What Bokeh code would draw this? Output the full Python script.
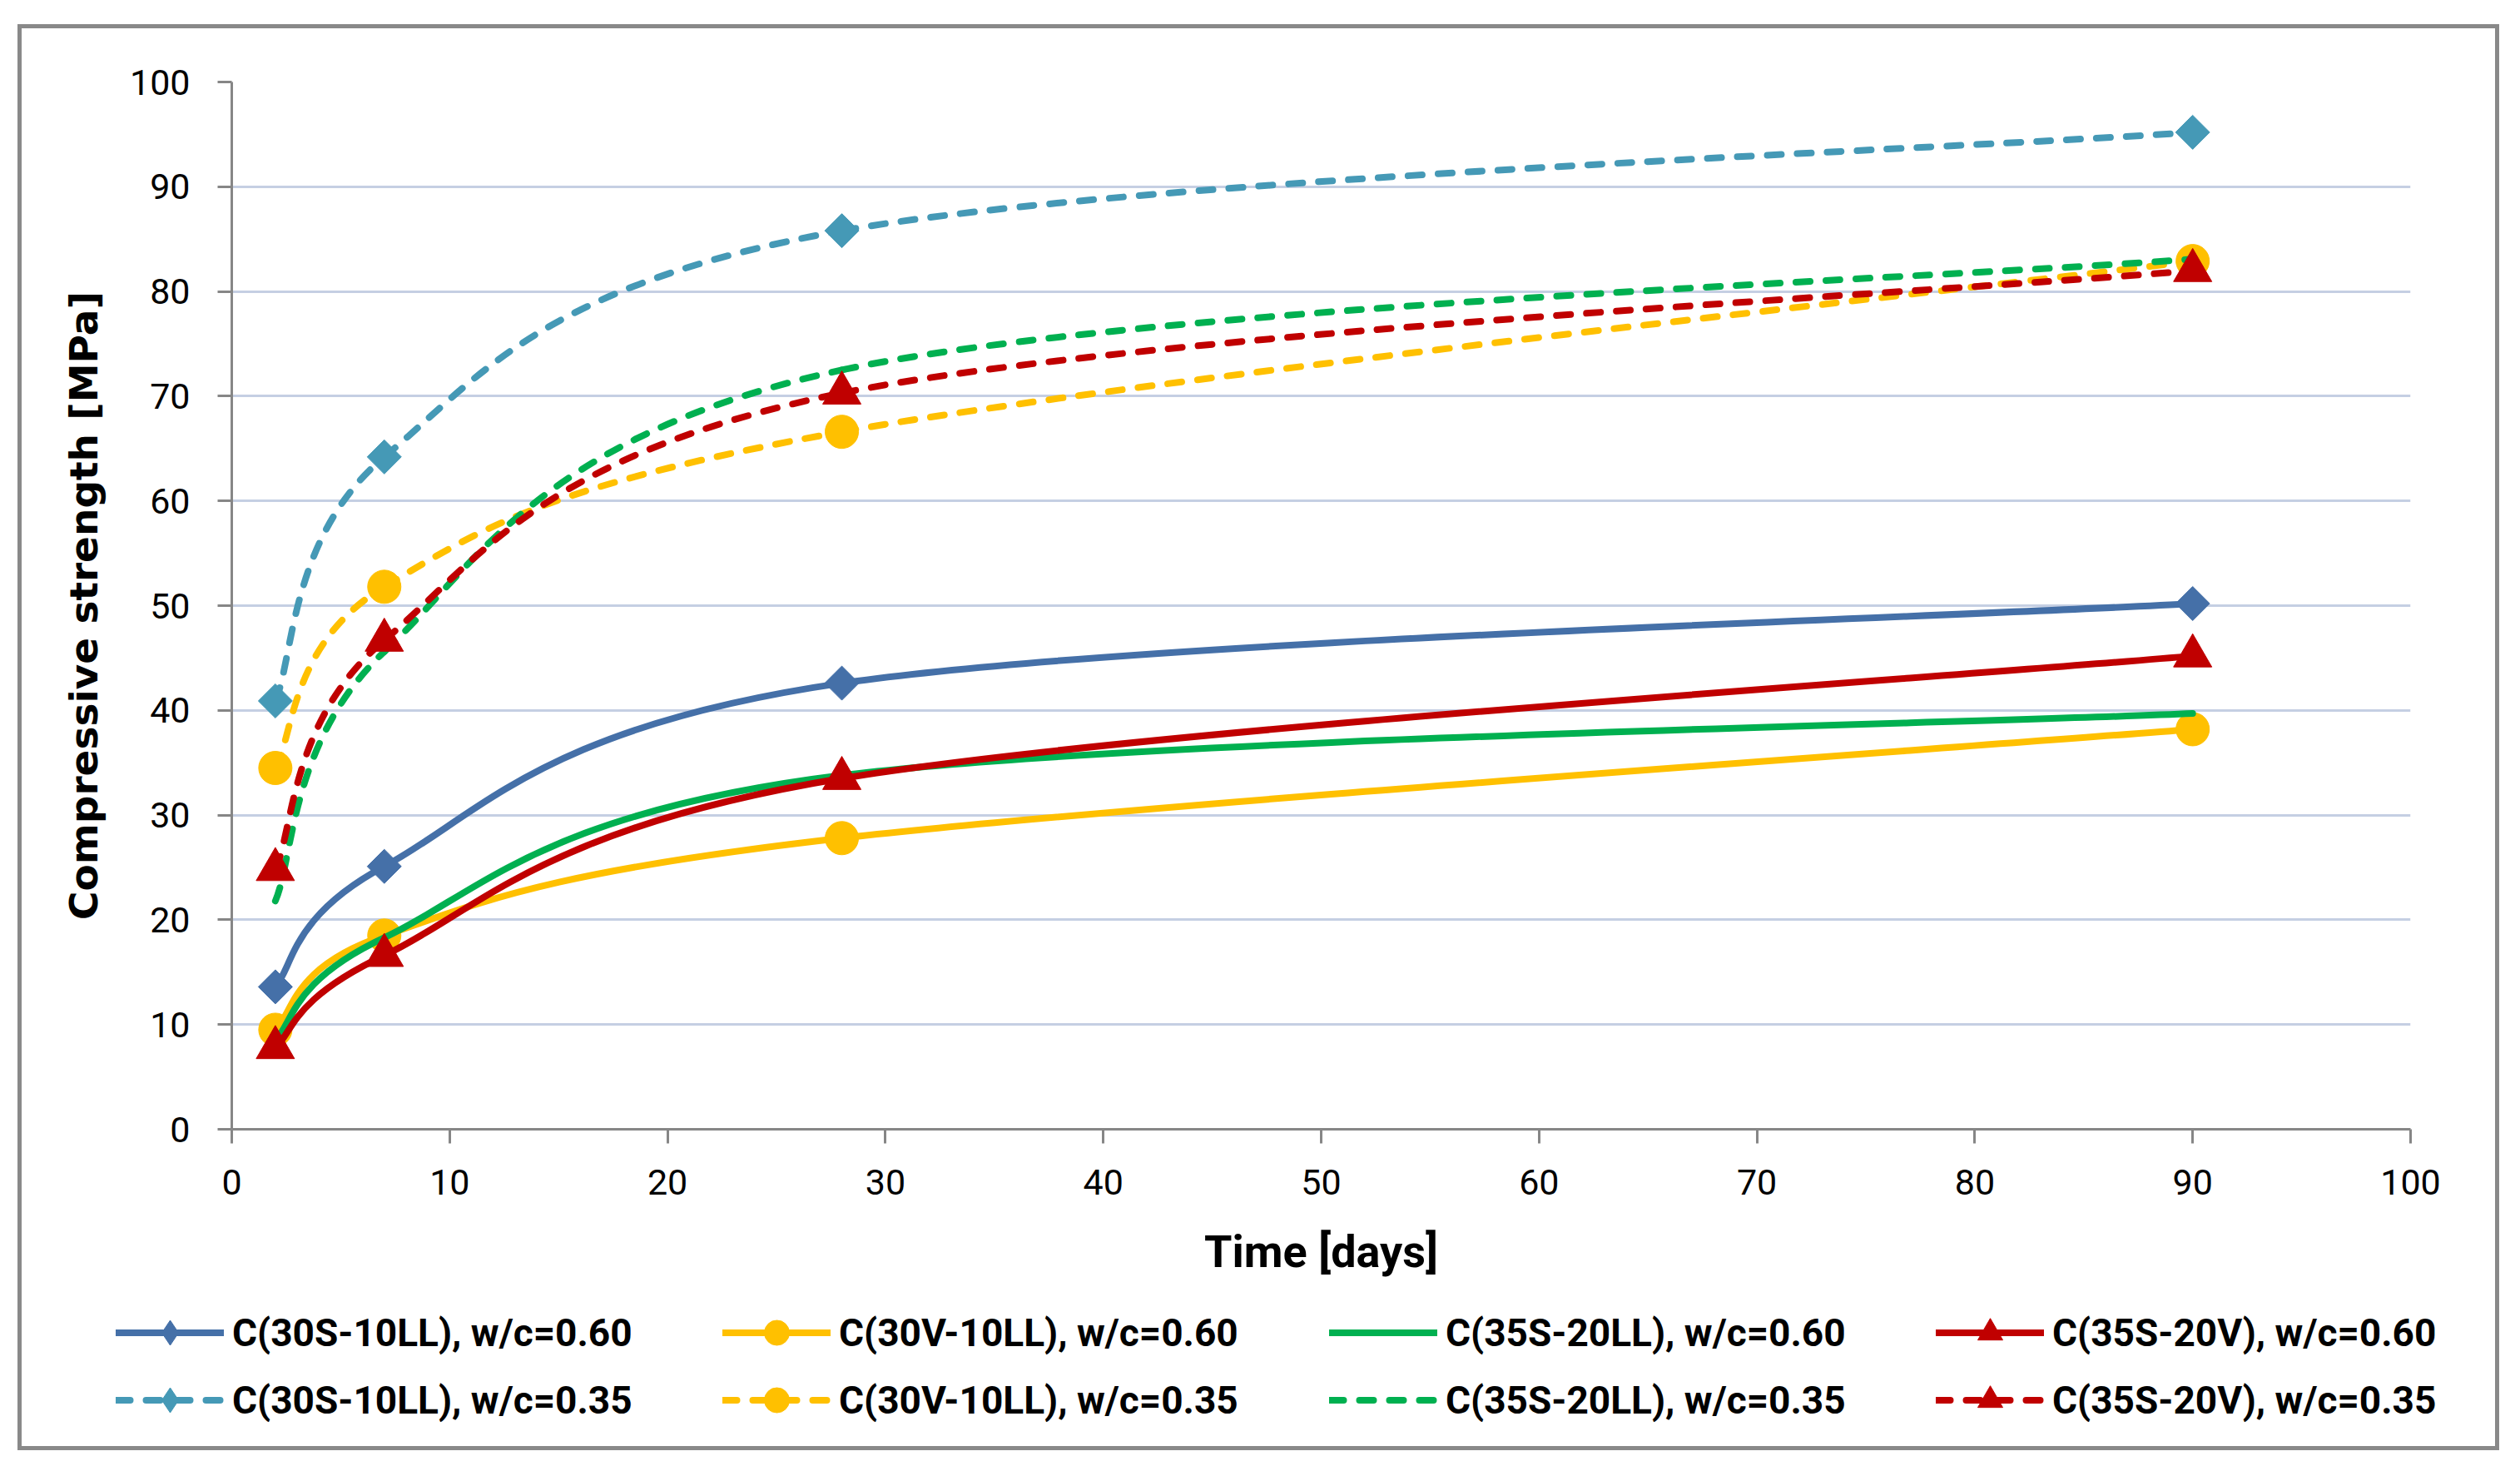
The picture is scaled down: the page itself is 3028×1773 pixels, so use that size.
import numpy as np
from bokeh.plotting import figure
from bokeh.layouts import column
from bokeh.models import (ColumnDataSource, Range1d, SingleIntervalTicker, Legend,
                          LegendItem)
from bokeh.embed import file_html
from bokeh.resources import INLINE

# ---------------- data ----------------
days = [2, 7, 28, 90]

s_30S10LL_060 = [13.6, 25.1, 42.6, 50.2]
s_30V10LL_060 = [9.5, 18.5, 27.8, 38.2]
s_35S20LL_060 = [8.5, 18.3, 33.8, 39.7]
s_35S20V_060 = [7.8, 16.6, 33.5, 45.2]
s_30S10LL_035 = [40.9, 64.2, 85.8, 95.2]
s_30V10LL_035 = [34.5, 51.8, 66.6, 82.9]
s_35S20LL_035 = [21.8, 45.6, 72.5, 83.1]
s_35S20V_035 = [24.8, 46.7, 70.3, 82.0]

labels = ["C(30S-10LL), w/c=0.60", "C(30V-10LL), w/c=0.60",
          "C(35S-20LL), w/c=0.60", "C(35S-20V), w/c=0.60",
          "C(30S-10LL), w/c=0.35", "C(30V-10LL), w/c=0.35",
          "C(35S-20LL), w/c=0.35", "C(35S-20V), w/c=0.35"]
series = [s_30S10LL_060, s_30V10LL_060, s_35S20LL_060, s_35S20V_060,
          s_30S10LL_035, s_30V10LL_035, s_35S20LL_035, s_35S20V_035]
colors = ["#4570A8", "#FFC000", "#00B050", "#C00000",
          "#4599B6", "#FFC000", "#00B050", "#C00000"]
dashes = ["solid"] * 4 + ["17 19"] * 4
markers = ["diamond", "circle", None, "triangle",
           "diamond", "circle", None, "triangle"]

x_ticks_interval = 10
y_ticks_interval = 10


def bezier_source(x, y):
    x = np.asarray(x, float)
    y = np.asarray(y, float)
    n = len(x)
    xp = np.concatenate([[x[0]], x, [x[-1]]])
    yp = np.concatenate([[y[0]], y, [y[-1]]])
    cx0 = x[:-1] + (xp[2:n + 1] - xp[0:n - 1]) / 6.0
    cy0 = y[:-1] + (yp[2:n + 1] - yp[0:n - 1]) / 6.0
    cx1 = x[1:] - (xp[3:n + 2] - xp[1:n]) / 6.0
    cy1 = y[1:] - (yp[3:n + 2] - yp[1:n]) / 6.0
    return ColumnDataSource(dict(x0=x[:-1], y0=y[:-1], x1=x[1:], y1=y[1:],
                                 cx0=cx0, cy0=cy0, cx1=cx1, cy1=cy1))


def add_series(fig, ys, col, dash, mk, key=False):
    src = bezier_source(days, ys)
    bez = fig.bezier(x0="x0", y0="y0", x1="x1", y1="y1", cx0="cx0", cy0="cy0",
                     cx1="cx1", cy1="cy1", source=src, line_color=col,
                     line_width=8, line_dash=dash, line_cap="round")
    rends = [bez]
    if mk == "diamond":
        if key:
            sc = fig.scatter(days, ys, marker="diamond", size=30,
                             fill_color=col, line_color=col, line_width=1)
        else:
            sc = fig.scatter(days, ys, marker="square", size=29, angle=np.pi / 4,
                             fill_color=col, line_color=col, line_width=1)
        rends.append(sc)
    elif mk == "circle":
        rends.append(fig.scatter(days, ys, marker="circle", size=40,
                                 fill_color=col, line_color=col, line_width=1))
    elif mk == "triangle":
        rends.append(fig.scatter(days, ys, marker="triangle", size=46,
                                 fill_color=col, line_color=col, line_width=1))
    if key:
        for r in rends:
            r.visible = False
    return rends


# ---------------- main figure ----------------
p = figure(width=2972, height=1522, output_backend="svg", toolbar_location=None,
           x_range=Range1d(0, 100), y_range=Range1d(0, 100),
           min_border_left=252, min_border_right=102,
           min_border_top=64, min_border_bottom=200)
p.outline_line_color = None
p.background_fill_color = "white"
p.border_fill_color = "white"

p.xaxis.ticker = SingleIntervalTicker(interval=x_ticks_interval)
p.yaxis.ticker = SingleIntervalTicker(interval=y_ticks_interval)
p.xgrid.visible = False
p.ygrid.grid_line_color = "#C5CFE3"
p.ygrid.grid_line_width = 3

for ax in (p.xaxis[0], p.yaxis[0]):
    ax.axis_line_color = "#868686"
    ax.axis_line_width = 3
    ax.major_tick_line_color = "#868686"
    ax.major_tick_line_width = 3
    ax.major_tick_in = 0
    ax.major_tick_out = 17
    ax.minor_tick_line_color = None
    ax.major_label_text_font = "Roboto"
    ax.major_label_text_font_size = "43px"
    ax.major_label_text_color = "#000000"

p.xaxis.major_label_standoff = 31
p.yaxis.major_label_standoff = 33
p.xaxis.axis_label = "Time [days]"
p.xaxis.axis_label_text_font = "Roboto"
p.xaxis.axis_label_text_font_style = "bold"
p.xaxis.axis_label_text_font_size = "54px"
p.xaxis.axis_label_text_color = "#000000"
p.xaxis.axis_label_standoff = 34
p.yaxis.axis_label = "Compressive strength [MPa]"
p.yaxis.axis_label_text_font = "DejaVu Sans"
p.yaxis.axis_label_text_font_style = "bold"
p.yaxis.axis_label_text_font_size = "47px"
p.yaxis.axis_label_text_color = "#000000"
p.yaxis.axis_label_standoff = 25

for ys, col, dash, mk in zip(series, colors, dashes, markers):
    add_series(p, ys, col, dash, mk)

# ---------------- legend strip ----------------
lf = figure(width=2972, height=181, output_backend="svg", toolbar_location=None,
            x_range=Range1d(0, 100), y_range=Range1d(0, 100),
            x_axis_type=None, y_axis_type=None,
            min_border_left=0, min_border_right=0, min_border_top=0,
            min_border_bottom=0)
lf.outline_line_color = None
lf.xgrid.visible = False
lf.ygrid.visible = False
lf.background_fill_color = "white"
lf.border_fill_color = "white"

for fig in (p, lf):
    try:
        fig.frame_align = False
    except Exception:
        pass

items = []
for lab, ys, col, dash, mk in zip(labels, series, colors, dashes, markers):
    rends = add_series(lf, ys, col, dash, mk, key=True)
    items.append(LegendItem(label=lab, renderers=rends))

legend = Legend(items=items, ncols=4, orientation="horizontal",
                location=(113, 18),
                glyph_width=130, glyph_height=75, label_standoff=10,
                label_width=583, spacing=6, padding=0, margin=0,
                label_text_font="Roboto", label_text_font_style="bold",
                label_text_font_size="46px", label_text_color="#000000",
                inactive_fill_alpha=0,
                background_fill_alpha=0, border_line_alpha=0)
lf.add_layout(legend, "center")

layout = column(p, lf, spacing=0)
layout.styles = {"position": "relative", "left": "21px", "top": "29px",
                 "border": "5px solid #898989", "box-sizing": "content-box"}

open("out.html", "w").write(file_html(layout, INLINE))
